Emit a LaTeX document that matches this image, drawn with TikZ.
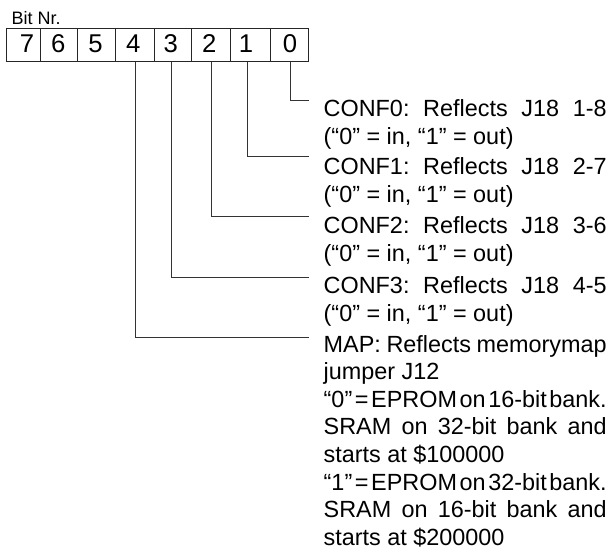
\documentclass[tikz,border=0pt]{standalone}
\usepackage{fontspec}
\setmainfont{Liberation Sans}
\tikzset{
  cell/.style={draw=black!85, line width=1pt, minimum height=32.7pt, inner sep=0pt},
  digit/.style={anchor=base, inner sep=0pt, font=\fontsize{25.7}{26}\selectfont},
  wire/.style={draw=black!80, line width=1pt},
  desc/.style={anchor=north west, inner sep=0pt, align=left, font=\fontsize{23.4}{28}\selectfont},
  mapdesc/.style={desc, font=\fontsize{23.4}{27.6}\selectfont},
}
\newcommand\jline[1]{\makebox[283pt][s]{\frenchspacing\spaceskip=0pt plus 1fil\relax #1}}
\begin{document}
\begin{tikzpicture}[x=1pt,y=-1pt]
\useasboundingbox (0,0) rectangle (612,551);
% title
\node[anchor=base west, inner sep=0pt, font=\fontsize{18}{18}\selectfont] (title) at (11.5,25) {Bit Nr.};
% cells
\node[cell, minimum width=34.7pt] (b7) at (23.35,44.65) {};
\node[cell, minimum width=37pt]   (b6) at (59.2,44.65) {};
\node[cell, minimum width=38pt]   (b5) at (96.7,44.65) {};
\node[cell, minimum width=38.3pt] (b4) at (134.85,44.65) {};
\node[cell, minimum width=37.7pt] (b3) at (172.85,44.65) {};
\node[cell, minimum width=38.3pt] (b2) at (210.85,44.65) {};
\node[cell, minimum width=40.7pt] (b1) at (250.35,44.65) {};
\node[cell, minimum width=37.6pt] (b0) at (289.5,44.65) {};
% digits
\node[digit] (d7) at (27,52.7) {7};
\node[digit] (d6) at (58.3,52.7) {6};
\node[digit] (d5) at (95.5,52.7) {5};
\node[digit] (d4) at (133.3,52.7) {4};
\node[digit] (d3) at (170.8,52.7) {3};
\node[digit] (d2) at (209.3,52.7) {2};
\node[digit] (d1) at (246,52.7) {1};
\node[digit] (d0) at (290,52.7) {0};
% connector ends
\coordinate (e0) at (309,100);
\coordinate (e1) at (309,156);
\coordinate (e2) at (309,216.7);
\coordinate (e3) at (309,277);
\coordinate (e4) at (309,337.7);
% connectors
\draw[wire] ([xshift=0.5pt]b0.south) |- (e0);
\draw[wire] ([xshift=-2.6pt]b1.south) |- (e1);
\draw[wire] ([xshift=0.2pt]b2.south) |- (e2);
\draw[wire] ([xshift=-1.1pt]b3.south) |- (e3);
\draw[wire] ([xshift=0.2pt]b4.south) |- (e4);
% descriptions
\node[desc] (t0) at (323.5,99.8) {\jline{CONF0: Reflects J18 1-8}\\(“0” = in, “1” = out)};
\node[desc] (t1) at (323.5,157) {\jline{CONF1: Reflects J18 2-7}\\(“0” = in, “1” = out)};
\node[desc] (t2) at (323.5,216.8) {\jline{CONF2: Reflects J18 3-6}\\(“0” = in, “1” = out)};
\node[desc] (t3) at (323.5,276.5) {\jline{CONF3: Reflects J18 4-5}\\(“0” = in, “1” = out)};
\node[mapdesc] (t4) at (323.5,335) {\jline{MAP: Reflects memorymap}\\
jumper J12\\
\jline{“0” = EPROM on 16-bit bank.}\\
\jline{SRAM on 32-bit bank and}\\
starts at \$100000\\
\jline{“1” = EPROM on 32-bit bank.}\\
\jline{SRAM on 16-bit bank and}\\
starts at \$200000};
\end{tikzpicture}
\end{document}
